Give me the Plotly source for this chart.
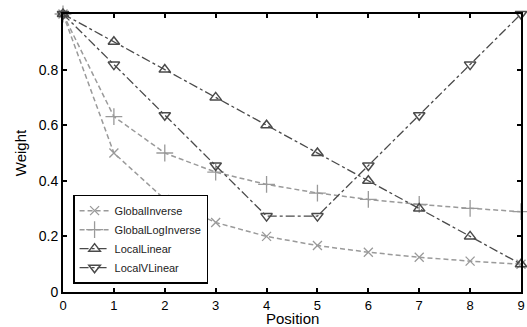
import plotly.graph_objects as go

positions = [0, 1, 2, 3, 4, 5, 6, 7, 8, 9]
global_inverse = [1.0, 0.5, 0.333, 0.25, 0.2, 0.167, 0.143, 0.125, 0.111, 0.1]
global_log_inverse = [1.0, 0.631, 0.5, 0.431, 0.387, 0.356, 0.333, 0.315, 0.301, 0.289]
local_linear = [1.0, 0.9, 0.8, 0.7, 0.6, 0.5, 0.4, 0.3, 0.2, 0.1]
local_v_linear = [1.0, 0.818, 0.636, 0.455, 0.273, 0.273, 0.455, 0.636, 0.818, 1.0]

x_ticks = [0, 1, 2, 3, 4, 5, 6, 7, 8, 9]
y_ticks = [0, 0.2, 0.4, 0.6, 0.8]
y_tick_labels = ["0", "0.2", "0.4", "0.6", "0.8"]
x_title = "Position"
y_title = "Weight"

light = "#9a9a9a"
dark = "#4a4a4a"

fig = go.Figure()
fig.add_trace(go.Scatter(
    x=positions, y=global_inverse, name="GlobalInverse", mode="lines+markers",
    line=dict(color=light, width=1.5, dash="5px,3px"),
    marker=dict(symbol="x-thin-open", size=9, color=light, line=dict(color=light, width=1.3)),
    cliponaxis=False))
fig.add_trace(go.Scatter(
    x=positions, y=global_log_inverse, name="GlobalLogInverse", mode="lines+markers",
    line=dict(color=light, width=1.5, dash="5px,3px"),
    marker=dict(symbol="cross-thin-open", size=12, color=light, line=dict(color=light, width=1.3)),
    cliponaxis=False))
fig.add_trace(go.Scatter(
    x=positions, y=local_linear, name="LocalLinear", mode="lines+markers",
    line=dict(color=dark, width=1.3, dash="dashdot"),
    marker=dict(symbol="triangle-up-open", size=10, color=dark, line=dict(color=dark, width=1.5)),
    cliponaxis=False))
fig.add_trace(go.Scatter(
    x=positions, y=local_v_linear, name="LocalVLinear", mode="lines+markers",
    line=dict(color=dark, width=1.3, dash="dashdot"),
    marker=dict(symbol="triangle-down-open", size=10, color=dark, line=dict(color=dark, width=1.5)),
    cliponaxis=False))

fig.update_layout(
    width=527, height=327,
    margin=dict(l=63, r=6, t=14, b=35),
    paper_bgcolor="white", plot_bgcolor="white",
    font=dict(family="Liberation Sans, Arial, sans-serif", size=14, color="black"),
    showlegend=True,
    legend=dict(
        x=0.022, y=0.03, xanchor="left", yanchor="bottom",
        bgcolor="white", bordercolor="black", borderwidth=1.5,
        font=dict(size=11, color="#222"), tracegroupgap=0, itemwidth=30,
    ),
    xaxis=dict(
        range=[0, 9], tickvals=x_ticks, ticktext=[str(v) for v in x_ticks],
        showline=True, linecolor="black", linewidth=2, mirror="allticks",
        ticks="inside", ticklen=4, tickcolor="black", tickwidth=1.5,
        showgrid=False, zeroline=False, tickfont=dict(size=13), automargin=False,
    ),
    yaxis=dict(
        range=[0, 1], tickvals=y_ticks, ticktext=y_tick_labels,
        showline=True, linecolor="black", linewidth=2, mirror="allticks",
        ticks="inside", ticklen=4, tickcolor="black", tickwidth=1.5,
        showgrid=False, zeroline=False, tickfont=dict(size=14), automargin=False,
        title=dict(text=y_title, standoff=8, font=dict(size=15)),
    ),
    annotations=[dict(
        text=x_title, xref="paper", yref="paper", x=0.5, y=-0.097,
        xanchor="center", yanchor="middle", showarrow=False, font=dict(size=15),
    )],
)

fig.write_html("out.html", config={"displayModeBar": False},
               post_script="document.body.style.margin='0';document.body.style.overflow='hidden';")
